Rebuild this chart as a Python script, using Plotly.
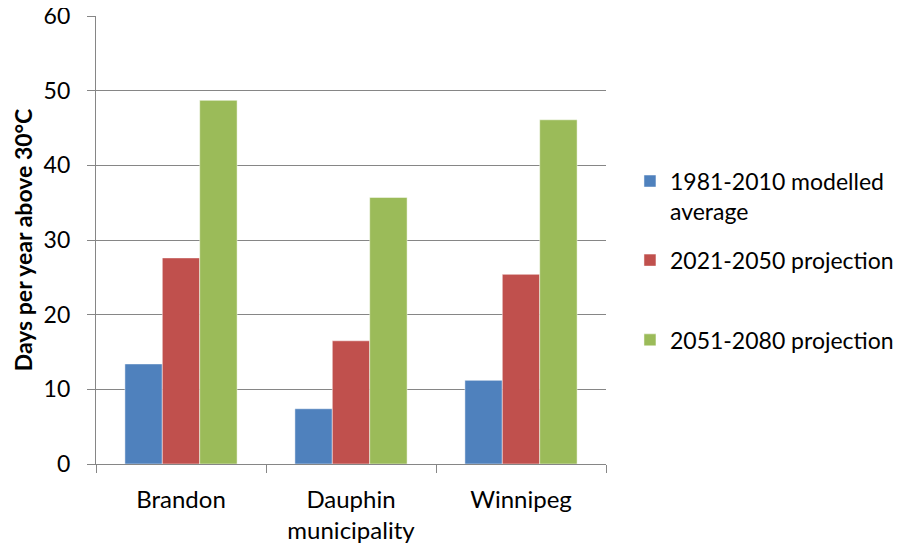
import plotly.graph_objects as go

categories = ["Brandon", "Dauphin<br>municipality", "Winnipeg"]
series_names = ["1981-2010 modelled<br>average", "2021-2050 projection", "2051-2080 projection"]
values_1981_2010 = [13.4, 7.4, 11.2]
values_2021_2050 = [27.6, 16.5, 25.4]
values_2051_2080 = [48.7, 35.7, 46.1]
colors = ["#4F81BD", "#C0504D", "#9BBB59"]
y_ticks = [0, 10, 20, 30, 40, 50, 60]

FONT = "Lato, Carlito, Calibri, sans-serif"
legend_refs = ["legend", "legend2", "legend3"]
legend_y = [0.598, 0.455, 0.277]

fig = go.Figure()
for i, (name, vals) in enumerate(zip(series_names, [values_1981_2010, values_2021_2050, values_2051_2080])):
    fig.add_trace(go.Bar(
        x=categories, y=vals, name=name,
        marker=dict(color=colors[i], line=dict(color="rgba(255,255,255,0.6)", width=0.8)),
        legend=legend_refs[i], showlegend=True,
    ))

legend_common = dict(
    x=1.047, xanchor="left", yanchor="middle",
    font=dict(family=FONT, size=23, color="#000000"),
    valign="top", bgcolor="rgba(0,0,0,0)", visible=True,
)

# page has an 8px body margin; figure placed at (8, 8) in the window
fig.update_layout(
    width=899, height=542,
    margin=dict(l=88, r=301, t=8, b=86, autoexpand=False),
    showlegend=True,
    paper_bgcolor="white", plot_bgcolor="white",
    barmode="group", bargap=0.34, bargroupgap=0,
    font=dict(family=FONT, size=23, color="#000000"),
    legend=dict(legend_common, y=legend_y[0]),
    legend2=dict(legend_common, y=legend_y[1]),
    legend3=dict(legend_common, y=legend_y[2]),
    xaxis=dict(
        type="category", tickson="boundaries", automargin=False,
        showline=True, linecolor="#868686", linewidth=1.3,
        ticks="outside", ticklen=8, tickcolor="#868686", tickwidth=1.3,
        ticklabelstandoff=14, ticklabeloverflow="allow",
        showgrid=False, tickfont=dict(size=24),
    ),
    yaxis=dict(
        range=[0, 60], tickvals=y_ticks, automargin=False,
        showline=True, linecolor="#868686", linewidth=1.3,
        ticks="outside", ticklen=8, tickcolor="#868686", tickwidth=1.3,
        ticklabelstandoff=12, ticklabeloverflow="allow",
        showgrid=True, gridcolor="#868686", gridwidth=1.3,
        zeroline=False, tickfont=dict(size=23),
        title=dict(text="<b>Days per year above 30°C</b>", font=dict(size=23), standoff=4),
    ),
)

fig.write_html("out.html")
